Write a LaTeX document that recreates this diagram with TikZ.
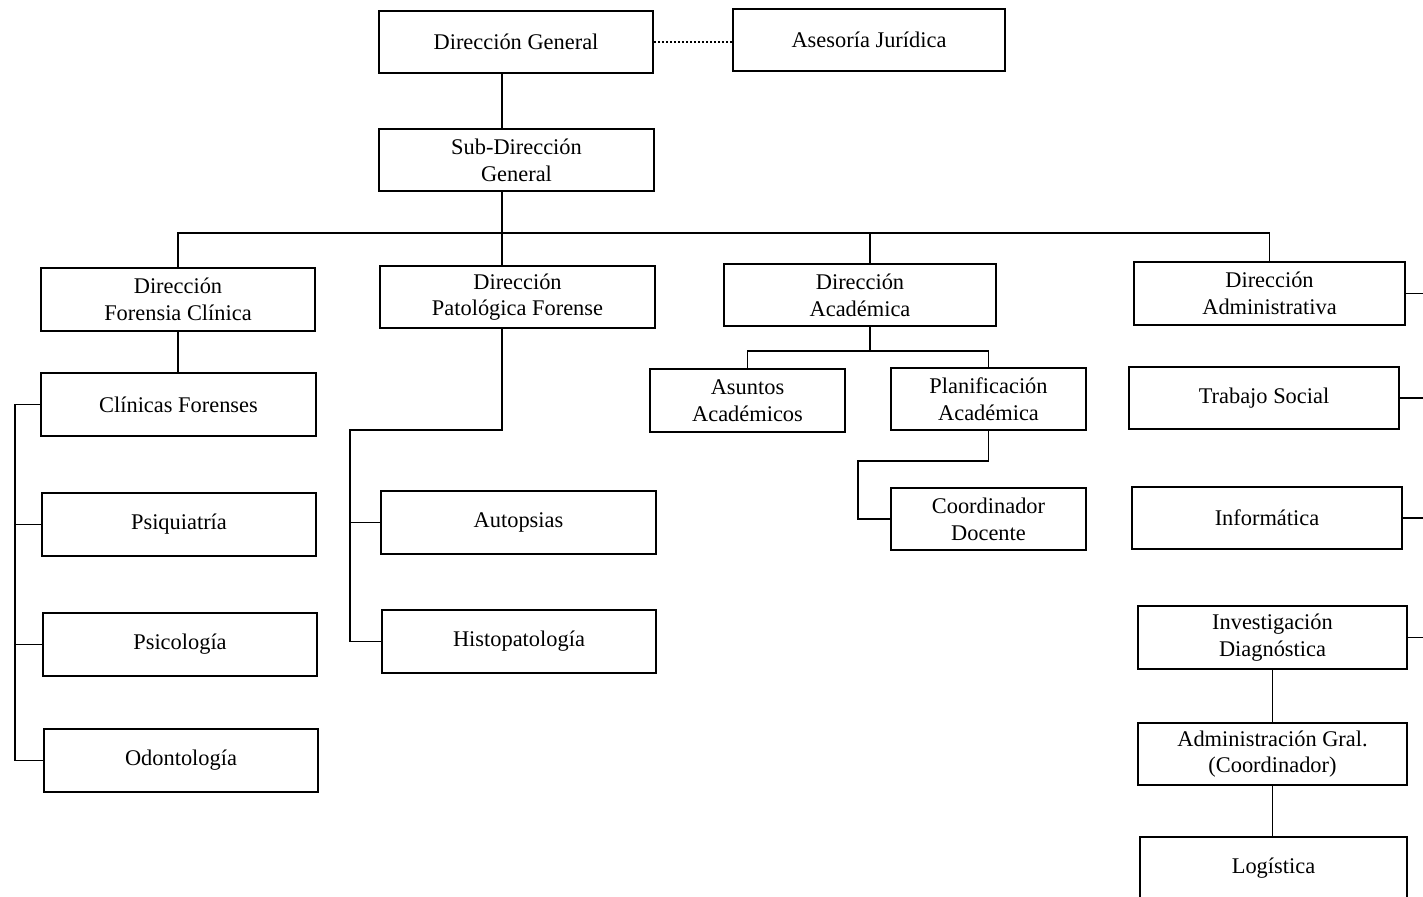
\documentclass[tikz,border=0pt]{standalone}
\usepackage{fontspec}
\setmainfont{Liberation Serif}
\usepackage{tikz}

\begin{document}
\begin{tikzpicture}[x=0.75pt,y=-0.75pt,line width=1.3pt,
    box/.style={draw,align=center,inner sep=0pt,minimum height=47pt,
      font=\fontsize{16.8}{20}\selectfont},
    wide/.style={box,minimum width=206pt},
    narrow/.style={box,minimum width=146pt}]
              \clip (0,0) rectangle (1423,896);
              \node [wide] (dg) at (516,42) {Direcci\'on General};
              \node [wide,minimum width=204pt] (aj) at (869,40) {Asesor\'ia Jur\'idica};
              \node [wide] (sdg) at (516.5,160) {Sub-Direcci\'on\\General};
              \node [wide] (dfc) at (178,299.5) {Direcci\'on\\Forensia Cl\'inica};
              \node [wide] (dpf) at (517.5,297) {Direcci\'on\\Patol\'ogica Forense};
              \node [wide,minimum width=204pt] (da) at (860,295) {Direcci\'on\\Acad\'emica};
              \node [wide,minimum width=203pt] (dad) at (1269.5,293.5) {Direcci\'on\\Administrativa};
              \node [wide] (cf) at (178.5,404.5) {Cl\'inicas Forenses};
              \node [wide] (psq) at (179,524.5) {Psiquiatr\'ia};
              \node [wide] (psc) at (180,644.5) {Psicolog\'ia};
              \node [wide] (odo) at (181,760.5) {Odontolog\'ia};
              \node [wide] (aut) at (518.5,522.5) {Autopsias};
              \node [wide] (his) at (519,641.5) {Histopatolog\'ia};
              \node [narrow] (asa) at (747.5,400.5) {Asuntos\\Acad\'emicos};
              \node [narrow] (pla) at (988.5,399) {Planificaci\'on\\Acad\'emica};
              \node [narrow] (cod) at (988.5,519) {Coordinador\\Docente};
              \node [wide,minimum width=202pt] (ts) at (1264,398) {Trabajo Social};
              \node [wide,minimum width=202pt] (inf) at (1267,518) {Inform\'atica};
              \node [wide,minimum width=202pt] (inv) at (1272.5,637.5) {Investigaci\'on\\Diagn\'ostica};
              \node [wide,minimum width=202pt] (adm) at (1272.5,754) {Administraci\'on Gral.\\(Coordinador)};
              \node [wide,minimum width=200pt] (log) at (1273.5,868) {Log\'istica};
              \coordinate (tr) at (502,233);
              \coordinate (ta) at (870,233);
              \coordinate (lb) at (15,405);
              \coordinate (pb) at (350,430);
              \coordinate (ab) at (870,351);
              \coordinate (pc) at (858,461);
              \coordinate (re) at (1423,0);
              \draw [dotted,line width=1pt] (dg.east) -- (dg.east -| aj.west);
              \draw (dg.south -| tr) -- (sdg.north -| tr);
              \draw (sdg.south -| tr) -- (tr);
              \draw (dfc.north) |- (tr) -| (dad.north);
              \draw (tr) -- (dpf.north -| tr);
              \draw (ta) -- (da.north -| ta);
              \draw (dfc.south) -- (dfc.south |- cf.north);
              \draw (cf.west) -- (cf.west -| lb) -- (odo.west -| lb) -- (odo.west);
              \draw (psq.west -| lb) -- (psq.west);
              \draw (psc.west -| lb) -- (psc.west);
              \draw (dpf.south -| tr) |- (pb) |- (his.west);
              \draw (aut.west -| pb) -- (aut.west);
              \draw (da.south -| ab) -- (ab);
              \draw (asa.north) |- (pla.north |- ab) -- (pla.north);
              \draw (pla.south) |- (pc) |- (cod.west);
              \draw (dad.east) -- (dad.east -| re);
              \draw (ts.east) -- (ts.east -| re);
              \draw (inf.east) -- (inf.east -| re);
              \draw (inv.east) -- (inv.east -| re);
              \draw (inv.south -| adm.north) -- (adm.north);
              \draw (adm.south) -- (adm.south |- log.north);
\end{tikzpicture}
\end{document}
